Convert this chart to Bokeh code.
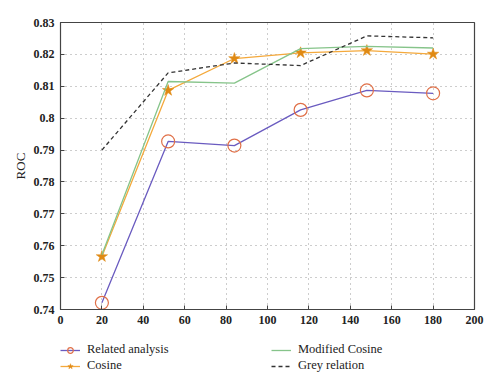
from bokeh.plotting import figure
from bokeh.layouts import column
from bokeh.models import Legend, LegendItem, FixedTicker, CustomJSTickFormatter, Range1d
from bokeh.embed import file_html
from bokeh.resources import INLINE

x_vals = [20, 52, 84, 116, 148, 180]
related = [0.7421, 0.7927, 0.7914, 0.8026, 0.8087, 0.8078]
cosine = [0.7566, 0.8087, 0.8187, 0.8205, 0.8212, 0.8201]
mod_cosine = [0.7572, 0.8115, 0.8110, 0.8218, 0.8225, 0.8220]
grey = [0.7900, 0.8142, 0.8173, 0.8165, 0.8258, 0.8252]
x_ticks = [0, 20, 40, 60, 80, 100, 120, 140, 160, 180, 200]
y_ticks = [0.74, 0.75, 0.76, 0.77, 0.78, 0.79, 0.80, 0.81, 0.82, 0.83]
labels = ["Related analysis", "Cosine", "Modified Cosine", "Grey relation"]

FONT = "Liberation Serif"

c_rel_line = "#6a5bc0"
c_rel_mark = "#e07048"
c_cos = "#f4a93c"
c_cos_mark = "#e08a14"
c_mod = "#86c48a"
c_grey = "#333333"


def draw(fig):
    r1 = fig.line(x_vals, related, line_color=c_rel_line, line_width=1.3)
    r1m = fig.scatter(x_vals, related, marker="circle", size=13, fill_color=None,
                      line_color=c_rel_mark, line_width=1.2)
    r2 = fig.line(x_vals, cosine, line_color=c_cos, line_width=1.3)
    r2m = fig.scatter(x_vals, cosine, marker="star", size=12, fill_color=c_cos_mark,
                      line_color=c_cos_mark, line_width=0.5)
    r3 = fig.line(x_vals, mod_cosine, line_color=c_mod, line_width=1.3)
    r4 = fig.line(x_vals, grey, line_color=c_grey, line_width=1.3, line_dash="4 3")
    return [[r1, r1m], [r2, r2m], [r3], [r4]]


p = figure(output_backend="svg", toolbar_location=None,
           frame_width=414, frame_height=287,
           min_border_left=60, min_border_right=18, min_border_top=22,
           min_border_bottom=30,
           x_range=Range1d(0, 200), y_range=Range1d(0.74, 0.83))
p.background_fill_color = "white"
p.border_fill_color = "white"
p.outline_line_color = "#444444"
p.outline_line_width = 1.2

for ax in (p.xaxis[0], p.yaxis[0]):
    ax.major_label_text_font = FONT
    ax.major_label_text_font_size = "12px"
    ax.major_label_text_color = "#222222"
    ax.major_label_text_font_style = "bold"
    ax.axis_line_color = "#444444"
    ax.major_tick_in = 4
    ax.major_tick_out = 0
    ax.minor_tick_line_color = None
    ax.major_tick_line_color = "#444444"
    ax.axis_label_text_font = FONT
    ax.axis_label_text_font_style = "normal"
    ax.axis_label_text_font_size = "13px"
    ax.axis_label_text_color = "#222222"

p.xaxis.ticker = FixedTicker(ticks=x_ticks)
p.yaxis.ticker = FixedTicker(ticks=y_ticks)
p.yaxis.formatter = CustomJSTickFormatter(code="return tick.toFixed(2).replace(/0$/, '');")
p.yaxis.axis_label = "ROC"
p.yaxis.major_label_standoff = 6
p.yaxis.axis_label_standoff = 3
p.xaxis.major_label_standoff = 6

p.grid.grid_line_color = "#9a9a9a"
p.grid.grid_line_dash = "1 4"
p.grid.grid_line_width = 1

draw(p)

# legend panel below the chart
lf = figure(output_backend="svg", toolbar_location=None,
            width=492, height=49, min_border=0,
            x_range=Range1d(-1000, -999), y_range=Range1d(-1000, -999))
lf.axis.visible = False
lf.grid.visible = False
lf.outline_line_color = None
lf.background_fill_color = "white"
lf.border_fill_color = "white"
groups = draw(lf)

legend = Legend(items=[LegendItem(label=l, renderers=g) for l, g in zip(labels, groups)],
                orientation="vertical", nrows=2, location=(0, 15))
legend.border_line_color = None
legend.background_fill_alpha = 0
legend.label_text_font = FONT
legend.label_text_font_size = "12.5px"
legend.label_text_color = "#222222"
legend.glyph_width = 20
legend.glyph_height = 14
legend.label_height = 14
legend.label_width = 183
legend.label_standoff = 7
legend.spacing = 1
legend.padding = 0
legend.margin = 0
lf.add_layout(legend, "center")

layout = column(p, lf, spacing=0)
open("out.html", "w").write(file_html(layout, INLINE))
